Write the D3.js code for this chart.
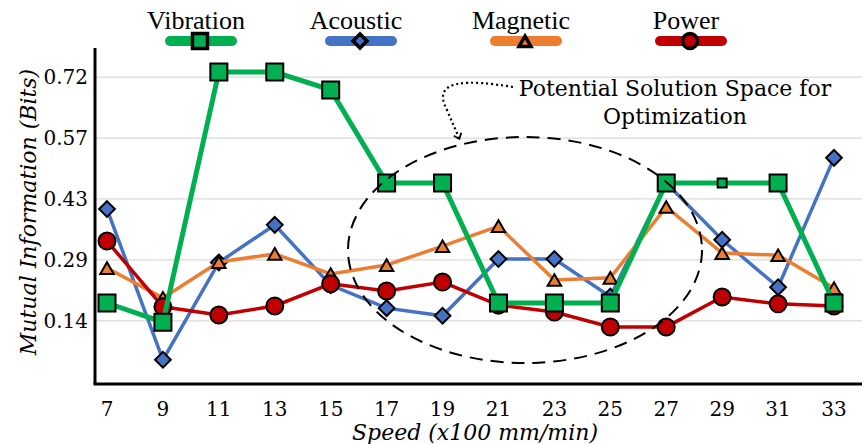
<!doctype html>
<head>
	<script src="https://d3js.org/d3.v7.min.js"></script>
	<style>
		body { margin: 0; background: #fff; }
		text { font-family: "DejaVu Serif", serif; }
		.leg { font-family: "Liberation Serif", serif; }
	</style>
</head>
<body>
	<svg id="chart" width="865" height="444"></svg>
	<script>
		const speeds = [7, 9, 11, 13, 15, 17, 19, 21, 23, 25, 27, 29, 31, 33]
		const vibration = [0.185, 0.14, 0.726, 0.726, 0.684, 0.466, 0.466, 0.185, 0.185, 0.185, 0.466, 0.466, 0.466, 0.185]
		const acoustic = [0.405, 0.052, 0.28, 0.368, 0.227, 0.173, 0.155, 0.288, 0.288, 0.2, 0.466, 0.333, 0.222, 0.525]
		const magnetic = [0.267, 0.197, 0.281, 0.30, 0.253, 0.274, 0.318, 0.365, 0.239, 0.244, 0.41, 0.302, 0.297, 0.22]
		const power = [0.33, 0.176, 0.157, 0.178, 0.23, 0.213, 0.234, 0.18, 0.164, 0.129, 0.129, 0.199, 0.183, 0.178]
		const yTicks = [0.143, 0.286, 0.429, 0.571, 0.714]
		const yTickLabels = ["0.14", "0.29", "0.43", "0.57", "0.72"]

		const series = [
			{name: "Acoustic", values: acoustic, color: "#4472c4", shape: "diamond", width: 3.5, lx: 360},
			{name: "Magnetic", values: magnetic, color: "#ed7d31", shape: "triangle", width: 3.5, lx: 525},
			{name: "Power", values: power, color: "#c00000", shape: "circle", width: 3.5, lx: 690},
			{name: "Vibration", values: vibration, color: "#00b050", shape: "square", width: 5, lx: 200}
		]

		const svg = d3.select("#chart")
		const plotLeft = 95, plotRight = 862, plotTop = 48, plotBottom = 384

		const x = d3.scalePoint().domain(speeds).range([107, 834])
		const y = d3.scaleLinear().domain([0, 0.78]).range([382, 382 - 0.78 * 427])

		// gridlines
		svg.append("g").selectAll("line").data(yTicks).join("line")
			.attr("x1", plotLeft).attr("x2", plotRight)
			.attr("y1", d => y(d)).attr("y2", d => y(d))
			.attr("stroke", "#d9d9d9").attr("stroke-width", 1.3)

		// y tick labels
		svg.append("g").selectAll("text").data(yTicks).join("text")
			.attr("x", 88).attr("y", d => y(d) + 7)
			.attr("text-anchor", "end").attr("font-size", 20)
			.text((d, i) => yTickLabels[i])

		// x tick labels
		svg.append("g").selectAll("text").data(speeds).join("text")
			.attr("x", d => x(d)).attr("y", 416)
			.attr("text-anchor", "middle").attr("font-size", 20)
			.text(d => d)

		// axes lines
		svg.append("line").attr("x1", plotLeft).attr("x2", plotLeft).attr("y1", plotTop).attr("y2", plotBottom)
			.attr("stroke", "#000").attr("stroke-width", 3)
		svg.append("line").attr("x1", plotLeft - 1.5).attr("x2", plotRight).attr("y1", plotBottom).attr("y2", plotBottom)
			.attr("stroke", "#000").attr("stroke-width", 3)

		svg.append("text").attr("x", 475).attr("y", 440)
			.attr("text-anchor", "middle").attr("font-size", 22).attr("font-style", "italic")
			.text("Speed (x100 mm/min)")
		svg.append("text").attr("transform", "translate(36,212) rotate(-90)")
			.attr("text-anchor", "middle").attr("font-size", 22).attr("font-style", "italic")
			.text("Mutual Information (Bits)")

		function marker(g, shape, color, size, sw) {
			const sym = {square: d3.symbolSquare, diamond: d3.symbolDiamond2, triangle: d3.symbolTriangle2, circle: d3.symbolCircle}[shape]
			const area = {square: size * size, diamond: size * size * 0.55, triangle: size * size * 0.45, circle: Math.PI * size * size / 4}[shape]
			return g.append("path")
				.attr("d", d3.symbol().type(sym).size(area)())
				.attr("fill", color).attr("stroke", "#000").attr("stroke-width", sw)
				.attr("stroke-linejoin", "miter")
		}

		const line = d3.line().x((d, i) => x(speeds[i])).y(d => y(d))

		series.forEach(s => {
			svg.append("path").attr("d", line(s.values))
				.attr("fill", "none").attr("stroke", s.color).attr("stroke-width", s.width)
			s.values.forEach((v, i) => {
				const size = (s.shape === "square" && speeds[i] === 29) ? 9 : 17
				const g = svg.append("g").attr("transform", `translate(${x(speeds[i])},${y(v) + (s.shape === "triangle" ? 2 : 0)})`)
				marker(g, s.shape, s.color, size, 2)
			})
		})

		// legend
		const legendOrder = ["Vibration", "Acoustic", "Magnetic", "Power"]
		legendOrder.forEach(n => {
			const s = series.find(d => d.name === n)
			svg.append("text").attr("class", "leg").attr("x", s.lx - 4).attr("y", 29)
				.attr("text-anchor", "middle").attr("font-size", 26).text(s.name)
			svg.append("line").attr("x1", s.lx - 30).attr("x2", s.lx + 32).attr("y1", 41).attr("y2", 41)
				.attr("stroke", s.color).attr("stroke-width", 10).attr("stroke-linecap", "round")
			const g = svg.append("g").attr("transform", `translate(${s.lx},${41 + (s.shape === "triangle" ? 2 : 0)})`)
			marker(g, s.shape, s.color, 15, 3.5)
		})

		// solution space ellipse
		svg.append("ellipse").attr("cx", 525).attr("cy", 250).attr("rx", 177).attr("ry", 113)
			.attr("fill", "none").attr("stroke", "#000").attr("stroke-width", 2)
			.attr("stroke-dasharray", "13,8")

		svg.append("defs").append("marker").attr("id", "arr")
			.attr("viewBox", "0 0 10 10").attr("refX", 5).attr("refY", 5)
			.attr("markerWidth", 10).attr("markerHeight", 10).attr("orient", "auto-start-reverse")
			.attr("markerUnits", "userSpaceOnUse")
			.append("path").attr("d", "M1,1 L6,5 L1,9").attr("fill", "none").attr("stroke", "#000").attr("stroke-width", 1.8)
		svg.append("path").attr("d", "M513,87 C470,80 430,78 447,110 C451,120 455,128 459,138")
			.attr("fill", "none").attr("stroke", "#000").attr("stroke-width", 2.2)
			.attr("stroke-dasharray", "2,3").attr("marker-end", "url(#arr)")

		svg.append("text").attr("x", 675).attr("y", 96).attr("text-anchor", "middle").attr("font-size", 22)
			.text("Potential Solution Space for")
		svg.append("text").attr("x", 675).attr("y", 124).attr("text-anchor", "middle").attr("font-size", 22)
			.text("Optimization")
	</script>
</body>
